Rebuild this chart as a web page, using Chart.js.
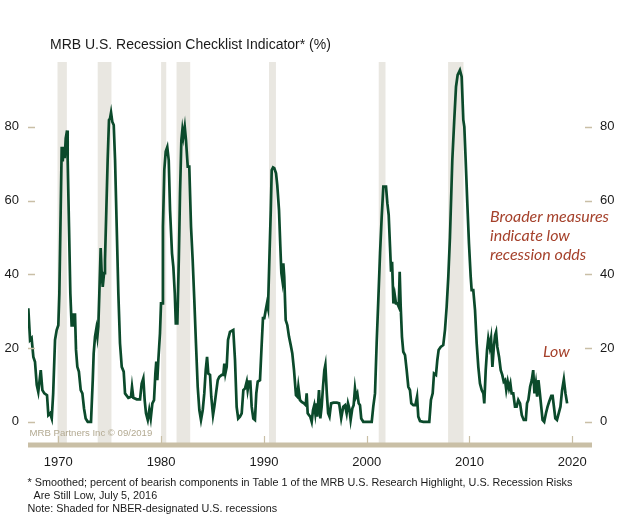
<!DOCTYPE html>
<html>
<head>
<meta charset="utf-8">
<script src="https://cdn.jsdelivr.net/npm/chart.js@4.4.0/dist/chart.umd.min.js"></script>
<style>
  html, body { margin: 0; padding: 0; background: #fff; }
  canvas { display: block; }
</style>
</head>
<body>
<canvas id="recession-chart" width="640" height="524"></canvas>
<script>
// values (decimal year, % bearish components)
const years = [
  1967.08, 1967.25, 1967.40, 1967.57, 1967.73, 1967.90, 1968.05, 1968.29, 1968.45, 1968.64,
  1968.90, 1969.03, 1969.20, 1969.36, 1969.50, 1969.68, 1969.84, 1970.00, 1970.10, 1970.23,
  1970.33, 1970.43, 1970.52, 1970.62, 1970.72, 1970.85, 1970.91, 1971.04, 1971.17, 1971.30,
  1971.40, 1971.50, 1971.62, 1971.72, 1971.85, 1972.00, 1972.18, 1972.34, 1972.50, 1972.66,
  1972.86, 1973.18, 1973.35, 1973.44, 1973.57, 1973.70, 1973.80, 1973.89, 1973.99, 1974.12,
  1974.22, 1974.32, 1974.45, 1974.54, 1974.67, 1974.80, 1974.93, 1975.03, 1975.13, 1975.25,
  1975.39, 1975.52, 1975.68, 1975.84, 1976.00, 1976.17, 1976.36, 1976.49, 1976.81, 1977.07,
  1977.17, 1977.30, 1977.63, 1977.95, 1978.11, 1978.27, 1978.40, 1978.53, 1978.70, 1978.85,
  1978.99, 1979.15, 1979.31, 1979.44, 1979.53, 1979.63, 1979.73, 1979.89, 1979.99, 1980.09,
  1980.18, 1980.31, 1980.45, 1980.60, 1980.74, 1980.87, 1981.06, 1981.19, 1981.33, 1981.43,
  1981.58, 1981.72, 1981.84, 1981.97, 1982.07, 1982.16, 1982.30, 1982.42, 1982.59, 1982.74,
  1982.91, 1983.07, 1983.23, 1983.39, 1983.56, 1983.72, 1983.88, 1984.05, 1984.20, 1984.34,
  1984.47, 1984.59, 1984.76, 1984.88, 1985.05, 1985.18, 1985.34, 1985.51, 1985.66, 1985.90,
  1986.05, 1986.15, 1986.25, 1986.38, 1986.51, 1986.70, 1987.02, 1987.19, 1987.35, 1987.50,
  1987.67, 1987.84, 1988.00, 1988.16, 1988.33, 1988.42, 1988.55, 1988.68, 1988.81, 1988.97,
  1989.13, 1989.26, 1989.40, 1989.62, 1989.79, 1989.91, 1990.04, 1990.18, 1990.30, 1990.40,
  1990.53, 1990.67, 1990.76, 1990.89, 1991.01, 1991.18, 1991.30, 1991.47, 1991.60, 1991.70,
  1991.79, 1991.89, 1991.98, 1992.12, 1992.28, 1992.44, 1992.61, 1992.76, 1992.93, 1993.12,
  1993.25, 1993.35, 1993.51, 1993.68, 1993.90, 1994.07, 1994.16, 1994.26, 1994.39, 1994.51,
  1994.65, 1994.78, 1994.90, 1995.00, 1995.10, 1995.19, 1995.36, 1995.49, 1995.62, 1995.75,
  1995.88, 1995.98, 1996.12, 1996.25, 1996.38, 1996.54, 1996.77, 1997.10, 1997.32, 1997.52,
  1997.72, 1997.89, 1998.05, 1998.18, 1998.31, 1998.44, 1998.60, 1998.73, 1998.86, 1998.96,
  1999.09, 1999.22, 1999.35, 1999.47, 1999.67, 2000.00, 2000.49, 2000.64, 2000.81, 2000.97,
  2001.13, 2001.30, 2001.46, 2001.62, 2001.88, 2002.01, 2002.14, 2002.27, 2002.37, 2002.47,
  2002.60, 2002.73, 2002.85, 2002.98, 2003.12, 2003.21, 2003.31, 2003.43, 2003.56, 2003.73,
  2003.89, 2004.05, 2004.21, 2004.34, 2004.54, 2004.73, 2004.90, 2005.02, 2005.19, 2005.50,
  2006.09, 2006.25, 2006.42, 2006.55, 2006.74, 2006.87, 2007.00, 2007.20, 2007.45, 2007.62,
  2007.78, 2007.94, 2008.10, 2008.33, 2008.52, 2008.69, 2008.85, 2009.07, 2009.24, 2009.40,
  2009.50, 2009.63, 2009.79, 2009.95, 2010.12, 2010.21, 2010.37, 2010.54, 2010.70, 2010.86,
  2011.02, 2011.19, 2011.35, 2011.44, 2011.58, 2011.71, 2011.83, 2011.97, 2012.10, 2012.23,
  2012.37, 2012.49, 2012.59, 2012.71, 2012.88, 2013.04, 2013.19, 2013.33, 2013.46, 2013.58,
  2013.72, 2013.85, 2013.98, 2014.10, 2014.26, 2014.43, 2014.59, 2014.75, 2014.92, 2015.09,
  2015.28, 2015.48, 2015.60, 2015.73, 2015.90, 2016.06, 2016.20, 2016.32, 2016.46, 2016.58,
  2016.71, 2016.85, 2016.98, 2017.11, 2017.27, 2017.44, 2017.60, 2017.76, 2017.96, 2018.09,
  2018.22, 2018.35, 2018.51, 2018.68, 2018.85, 2019.01, 2019.18, 2019.34, 2019.50
];
const indicator = [
  30.8, 22.2, 22.7, 17.6, 16.3, 10.0, 8.1, 14.0, 8.6, 7.7,
  7.2, 1.8, 2.3, 0.9, 7.7, 22.2, 24.9, 26.2, 34.8, 57.4,
  74.6, 70.6, 74.6, 71.5, 76.9, 79.0, 71.0, 52.9, 34.8, 25.8,
  29.4, 25.8, 29.4, 19.5, 14.9, 13.6, 8.6, 7.7, 3.6, 0.9,
  0, 0, 11.3, 18.6, 23.1, 25.3, 23.1, 25.8, 34.8, 47.1,
  40.3, 36.6, 40.3, 43.9, 57.4, 71.0, 81.9, 82.3, 83.9, 81.4,
  80.5, 71.0, 52.9, 34.8, 21.3, 14.9, 13.6, 7.7, 6.5, 6.8,
  9.5, 6.5, 6.1, 6.1, 10.4, 11.8, 5.9, 2.3, 0.5, 3.2,
  0.9, 5.0, 5.9, 13.1, 16.3, 11.3, 16.7, 24.0, 32.1, 32.1,
  52.9, 68.3, 73.3, 74.5, 71.0, 57.4, 45.7, 42.0, 34.8, 26.7,
  26.7, 43.9, 62.0, 76.4, 79.2, 77.3, 80.0, 76.4, 69.2, 69.2,
  52.9, 43.9, 33.0, 21.3, 9.5, 3.2, 0.5, 3.2, 7.7, 14.0,
  17.6, 13.1, 12.7, 6.8, 1.8, 4.1, 7.7, 11.3, 12.2, 12.7,
  12.7, 15.8, 13.1, 14.9, 22.2, 24.4, 24.9, 16.7, 4.0, 0.9,
  1.4, 2.3, 8.6, 9.0, 10.9, 8.6, 10.9, 10.9, 4.1, 0.9,
  0.5, 7.7, 10.9, 11.3, 21.3, 28.1, 28.1, 30.3, 32.1, 30.8,
  43.9, 57.4, 68.3, 69.0, 68.8, 67.4, 64.2, 57.4, 47.5, 40.3,
  38.5, 43.0, 39.3, 27.6, 26.2, 23.1, 20.8, 18.6, 14.0, 7.2,
  6.8, 9.5, 5.9, 5.4, 5.0, 4.5, 7.7, 2.3, 1.8, 1.4,
  0, 3.2, 4.5, 2.3, 5.0, 1.4, 8.6, 0.9, 4.1, 9.5,
  14.0, 15.4, 7.7, 2.3, 1.4, 5.0, 5.2, 5.2, 5.0, 1.0,
  4.1, 4.5, 2.3, 5.0, 3.6, 0.5, 3.6, 4.5, 9.0, 6.8,
  7.7, 5.0, 4.5, 0.9, 0, 0, 0, 4.1, 7.7, 21.3,
  33.0, 45.7, 55.6, 63.8, 63.8, 59.3, 56.1, 47.5, 40.7, 43.4,
  32.1, 34.4, 32.1, 32.1, 31.2, 40.7, 31.2, 23.1, 19.0, 18.1,
  14.0, 9.5, 8.6, 5.0, 4.5, 4.5, 6.8, 1.4, 0.2, 0,
  0, 5.9, 7.7, 13.1, 12.7, 16.7, 19.5, 20.3, 20.8, 25.0,
  31.2, 39.3, 50.0, 71.0, 81.9, 90.9, 94.1, 95.4, 93.6, 81.9,
  80.0, 71.0, 59.3, 48.4, 39.3, 35.7, 35.7, 30.3, 21.3, 14.9,
  10.4, 8.6, 7.7, 5.0, 14.0, 19.5, 22.6, 20.3, 22.6, 14.9,
  20.3, 23.5, 24.4, 20.3, 17.6, 14.0, 12.7, 10.9, 11.3, 8.6,
  10.9, 9.0, 10.4, 7.7, 7.7, 4.1, 4.1, 5.9, 5.0, 1.8,
  0.5, 0.5, 5.0, 5.9, 9.5, 11.3, 14.0, 7.7, 10.4, 6.8,
  11.3, 7.7, 4.1, 0.5, 0, 2.3, 4.1, 5.5, 7.0, 7.0,
  4.0, 0.9, 0.5, 2.3, 4.1, 8.6, 11.5, 7.7, 5.0
];
// NBER recessions, start / end as decimal years
const recessionStart = [1969.92, 1973.83, 1980.0, 1981.5, 1990.5, 2001.17, 2007.92];
const recessionEnd = [1970.83, 1975.17, 1980.5, 1982.83, 1991.17, 2001.83, 2009.42];
const yTicks = [0, 20, 40, 60, 80];
const xTicks = [1970, 1980, 1990, 2000, 2010, 2020];

const lineColor = '#0b4a2b'
const shadeColor = '#e9e7e1'
const axisColor = '#c9bfa6'
const noteColor = '#a5412b'

const points = years.map((y, i) => ({ x: y, y: indicator[i] }));

const decorations = {
    id: 'decorations',
    beforeDatasetsDraw(chart) {
        const { ctx, chartArea, scales } = chart
        ctx.save()
        ctx.fillStyle = shadeColor
        recessionStart.forEach((s, i) => {
            const x0 = scales.x.getPixelForValue(s)
            const x1 = scales.x.getPixelForValue(recessionEnd[i])
            ctx.fillRect(x0, chartArea.top, x1 - x0, chartArea.bottom - chartArea.top)
        })
        ctx.restore()
    },
    afterDraw(chart) {
        const { ctx, chartArea, scales } = chart
        ctx.save()

        // x axis band and ticks
        ctx.fillStyle = axisColor
        ctx.fillRect(chartArea.left, chartArea.bottom - 2.5, chartArea.right - chartArea.left, 5)
        ctx.strokeStyle = axisColor
        ctx.lineWidth = 1.2
        xTicks.forEach(t => {
            const x = Math.round(scales.x.getPixelForValue(t)) + 0.5
            ctx.beginPath()
            ctx.moveTo(x, chartArea.bottom - 9)
            ctx.lineTo(x, chartArea.bottom - 2)
            ctx.stroke()
        })

        // y tick dashes on both sides
        ctx.lineWidth = 1.5
        yTicks.forEach(t => {
            const y = Math.round(scales.y.getPixelForValue(t)) + 0.5
            ctx.beginPath()
            ctx.moveTo(chartArea.left, y)
            ctx.lineTo(chartArea.left + 7, y)
            ctx.moveTo(chartArea.right - 7, y)
            ctx.lineTo(chartArea.right, y)
            ctx.stroke()
        })

        // tick labels
        ctx.fillStyle = '#1a1a1a'
        ctx.font = '13px "Liberation Sans", Arial, sans-serif'
        ctx.textBaseline = 'middle'
        yTicks.forEach(t => {
            const y = scales.y.getPixelForValue(t)
            ctx.textAlign = 'right'
            ctx.fillText(String(t), 19, y)
            ctx.textAlign = 'left'
            ctx.fillText(String(t), 600, y)
        })
        ctx.textAlign = 'center'
        xTicks.forEach(t => {
            ctx.fillText(String(t), scales.x.getPixelForValue(t), 462.5)
        })

        // title
        ctx.textAlign = 'left'
        ctx.font = '14px "Liberation Sans", Arial, sans-serif'
        ctx.fillText('MRB U.S. Recession Checklist Indicator* (%)', 50, 45)

        // watermark
        ctx.fillStyle = '#b3aa92'
        ctx.font = '9.6px "Liberation Sans", Arial, sans-serif'
        ctx.fillText('MRB Partners Inc \u00a9 09/2019', 29.5, 433.5)

        // annotations
        ctx.fillStyle = noteColor
        ctx.font = 'italic 16px Lato, "Open Sans", sans-serif'
        ctx.fillText('Broader measures', 490, 217)
        ctx.fillText('indicate low', 490, 236)
        ctx.fillText('recession odds', 490, 255)
        ctx.fillText('Low', 543, 352)

        // footnotes
        ctx.fillStyle = '#1a1a1a'
        ctx.font = '10.8px "Liberation Sans", Arial, sans-serif'
        ctx.fillText('* Smoothed; percent of bearish components in Table 1 of the MRB U.S. Research Highlight, U.S. Recession Risks', 27.5, 483)
        ctx.fillText('Are Still Low, July 5, 2016', 33.5, 496)
        ctx.fillText('Note: Shaded for NBER-designated U.S. recessions', 27.5, 509)

        ctx.restore()
    }
}

new Chart(document.getElementById('recession-chart'), {
    type: 'line',
    data: {
        datasets: [{
            data: points,
            borderColor: lineColor,
            borderWidth: 2.7,
            pointRadius: 0,
            tension: 0,
            fill: false
        }]
    },
    options: {
        responsive: false,
        animation: false,
        layout: {
            padding: { left: 28, right: 48, top: 62, bottom: 79 }
        },
        plugins: {
            legend: { display: false },
            tooltip: { enabled: false }
        },
        scales: {
            x: { type: 'linear', min: 1967.05, max: 2021.92, display: false },
            y: { min: -6.3, max: 97.6, display: false }
        }
    },
    plugins: [decorations]
});
</script>
</body>
</html>
